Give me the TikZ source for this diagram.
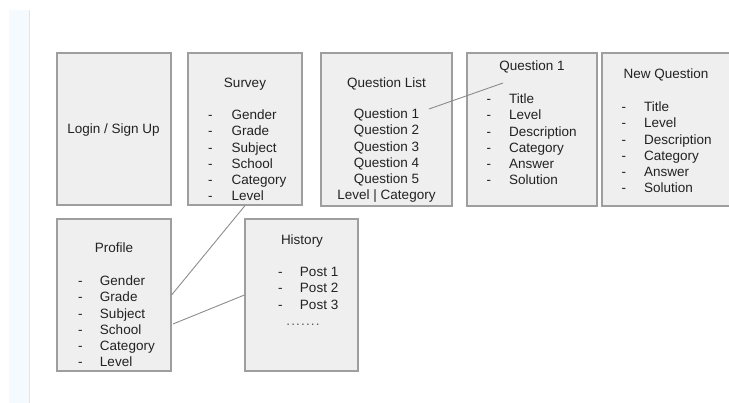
\documentclass[tikz,border=0pt]{standalone}
\usepackage{fontspec}
\setmainfont{Liberation Sans}
\usetikzlibrary{positioning,calc}
\definecolor{boxgray}{HTML}{9E9E9E}
\definecolor{boxfill}{HTML}{EFEFEF}
\definecolor{linkgray}{HTML}{8C8C8C}
\definecolor{txtgray}{HTML}{222222}
\definecolor{stripblue}{HTML}{F5FAFF}
\definecolor{stripline}{HTML}{E2E4E6}
\newcommand{\moredots}{.\kern1.15pt.\kern1.15pt.\kern1.15pt.\kern1.15pt.\kern1.15pt.\kern1.15pt.}

\begin{document}
\begin{tikzpicture}[x=1pt,y=-1pt,
  box/.style={draw=boxgray,fill=boxfill,line width=1.2pt,minimum width=114pt,minimum height=152pt,inner sep=0pt},
  txt/.style={inner sep=0pt,text=txtgray,font={\fontsize{13.5}{16.3}\selectfont}},
  link/.style={draw=linkgray,line width=0.9pt}]
  \useasboundingbox (0,0) rectangle (729,403);
  \clip (0,0) rectangle (729,403);
  % page margin strip
  \fill[stripblue] (9,10) rectangle (29,403);
  \draw[stripline,line width=1.5pt] (29.5,10) -- (29.5,403);

  \node[box] (login) at (114,129) {};
  \node[box] (survey) at (245,129) {};
  \node[box,minimum width=131pt,minimum height=153pt] (qlist) at (386.5,129.5) {};
  \node[box,minimum width=130pt,minimum height=153pt] (qone) at (532,129.5) {};
  \node[box,minimum width=140pt,minimum height=153pt] (newq) at (672,129.5) {};
  \node[box] (profile) at (114,295) {};
  \node[box,minimum width=113pt] (history) at (301.5,295) {};

  \node[txt] (logintxt) at (113.5,130.5) {Login / Sign Up};

  \node[txt,anchor=base] (surveytitle) at (245,87.5) {Survey};
  \node[txt,anchor=base west] (surveylist) at (208,119.5) {\begin{tabular}[t]{@{}p{23.5pt}@{}l@{}}
    - & Gender\\ - & Grade\\ - & Subject\\ - & School\\ - & Category\\ - & Level
  \end{tabular}};

  \node[txt,anchor=base] (qlisttitle) at (386.5,87.5) {Question List};
  \node[txt,anchor=base] (qlistrows) at (386.5,118.5) {\begin{tabular}[t]{@{}c@{}}
    Question 1\\ Question 2\\ Question 3\\ Question 4\\ Question 5\\ Level | Category
  \end{tabular}};

  \node[txt,anchor=base] (qonetitle) at (532,70.5) {Question 1};
  \node[txt,anchor=base west] (qonelist) at (486.5,103.5) {\begin{tabular}[t]{@{}p{22.5pt}@{}l@{}}
    - & Title\\ - & Level\\ - & Description\\ - & Category\\ - & Answer\\ - & Solution
  \end{tabular}};

  \node[txt,anchor=base] (newqtitle) at (666,78.5) {New Question};
  \node[txt,anchor=base west] (newqlist) at (621.5,111.5) {\begin{tabular}[t]{@{}p{22.5pt}@{}l@{}}
    - & Title\\ - & Level\\ - & Description\\ - & Category\\ - & Answer\\ - & Solution
  \end{tabular}};

  \node[txt,anchor=base] (profiletitle) at (114,252.5) {Profile};
  \node[txt,anchor=base west] (profilelist) at (78,285.5) {\begin{tabular}[t]{@{}p{21.8pt}@{}l@{}}
    - & Gender\\ - & Grade\\ - & Subject\\ - & School\\ - & Category\\ - & Level
  \end{tabular}};

  \node[txt,anchor=base] (historytitle) at (302,244.5) {History};
  \node[txt,anchor=base west] (historylist) at (278,276.5) {\begin{tabular}[t]{@{}p{21.8pt}@{}l@{}}
    - & Post 1\\ - & Post 2\\ - & Post 3\\
    \multicolumn{2}{@{}l@{}}{\hspace{8.2pt}\textcolor{txtgray!75}{\moredots}}
  \end{tabular}};

  % links
  \coordinate (qlistpick) at (429,109);
  \coordinate (qonehead) at (503,83);
  \coordinate (profileout) at (173,324);
  \draw[link] (qlistpick) -- (qonehead);
  \draw[link] (survey.south) -- (profile.east);
  \draw[link] (profileout) -- (history.west);
\end{tikzpicture}
\end{document}
